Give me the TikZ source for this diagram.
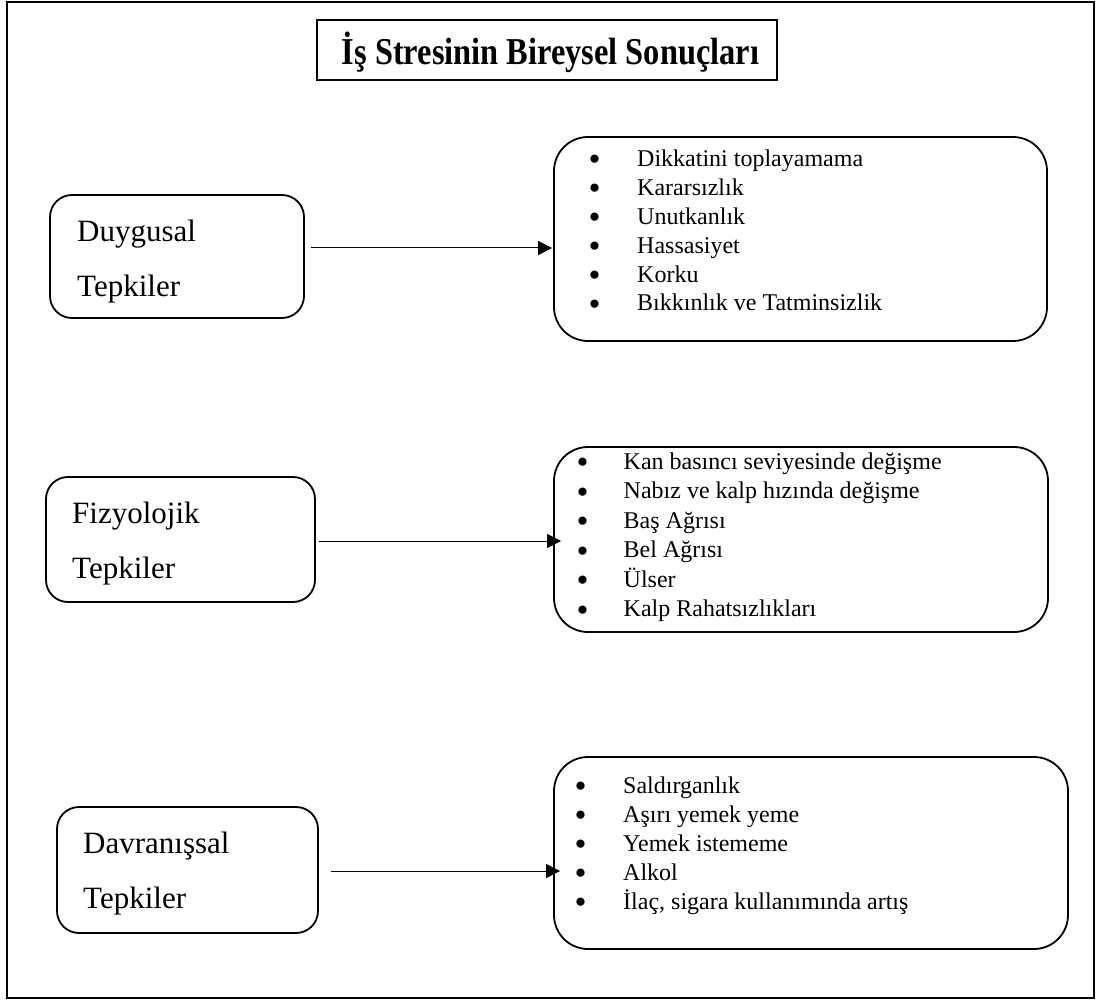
\documentclass[tikz,border=0pt]{standalone}
\usepackage{fontspec}
\setmainfont{Liberation Serif}
\usetikzlibrary{arrows.meta,calc}
\newcommand{\blt}{\raisebox{1.5pt}{●}}
\begin{document}
\begin{tikzpicture}[x=1pt,y=-1pt,
  frame/.style={draw, line width=1.6pt},
  titlebox/.style={draw, line width=2.4pt, minimum width=460pt, minimum height=60pt, inner sep=0pt,
     text height=30pt, text depth=0pt, font=\fontsize{38}{44}\bfseries\selectfont},
  lbox/.style={draw, line width=1.8pt, rounded corners=22pt, inner sep=0pt},
  rbox/.style={draw, line width=1.8pt, rounded corners=34pt, inner sep=0pt},
  ltext/.style={anchor=base west, inner sep=0pt, font=\fontsize{31}{38}\selectfont},
  itext/.style={anchor=base west, inner sep=0pt, font=\fontsize{24}{29}\selectfont},
  bullet/.style={anchor=base, inner sep=0pt, font=\fontsize{19}{19}\selectfont},
  arr/.style={-{Triangle[length=14pt,width=14pt]}, line width=1pt}]
\useasboundingbox (0,0) rectangle (1101,1003);
\draw[frame] (7,2) rectangle (1094,998);

\node[titlebox] (title) at (547,50) {\hspace*{7pt}\scalebox{0.853}[1]{İş Stresinin Bireysel Sonuçları}};

% left boxes
\node[lbox, minimum width=254pt, minimum height=123pt] (d) at (177,256.5) {};
\node[ltext] (d1) at (77,242) {Duygusal};
\node[ltext] (d2) at (77,297) {Tepkiler};

\node[lbox, minimum width=269pt, minimum height=125pt] (f) at (180.5,539.5) {};
\node[ltext] (f1) at (72,523) {Fizyolojik};
\node[ltext] (f2) at (72,578) {Tepkiler};

\node[lbox, minimum width=261pt, minimum height=126pt] (v) at (187.5,870) {};
\node[ltext] (v1) at (83,853) {Davranışsal};
\node[ltext] (v2) at (83,908) {Tepkiler};

% right boxes
\node[rbox, minimum width=493pt, minimum height=204pt] (r1) at (800.5,239) {};
\node[rbox, minimum width=494pt, minimum height=185pt] (r2) at (801,539.5) {};
\node[rbox, minimum width=514pt, minimum height=192pt] (r3) at (811,853) {};

\foreach \t [count=\i from 0] in {Dikkatini toplayamama, Kararsızlık, Unutkanlık, Hassasiyet, Korku, Bıkkınlık ve Tatminsizlik}{
  \node[bullet] (r1b\i) at (594.5,166.5+28.9*\i) {\blt};
  \node[itext] (r1t\i) at (637,166.5+28.9*\i) {\t};
}
\foreach \t [count=\i from 0] in {Kan basıncı seviyesinde değişme, Nabız ve kalp hızında değişme, Baş Ağrısı, Bel Ağrısı, Ülser, Kalp Rahatsızlıkları}{
  \node[bullet] (r2b\i) at (582.5,469.3+29.5*\i) {\blt};
  \node[itext] (r2t\i) at (623.5,469.3+29.5*\i) {\t};
}
\foreach \t [count=\i from 0] in {Saldırganlık, Aşırı yemek yeme, Yemek istememe, Alkol, {İlaç, sigara kullanımında artış}}{
  \node[bullet] (r3b\i) at (580.5,793+29*\i) {\blt};
  \node[itext] (r3t\i) at (623,793+29*\i) {\t};
}

% arrows
\coordinate (y1) at (0,248);
\coordinate (y2) at (0,541);
\coordinate (y3) at (0,871);
\draw[arr, shorten <=6pt, shorten >=1pt] (d.east |- y1) -- (r1.west |- y1);
\draw[arr, shorten <=3pt, shorten >=-8pt] (f.east |- y2) -- (r2.west |- y2);
\draw[arr, shorten <=12pt, shorten >=-7pt] (v.east |- y3) -- (r3.west |- y3);
\end{tikzpicture}
\end{document}
